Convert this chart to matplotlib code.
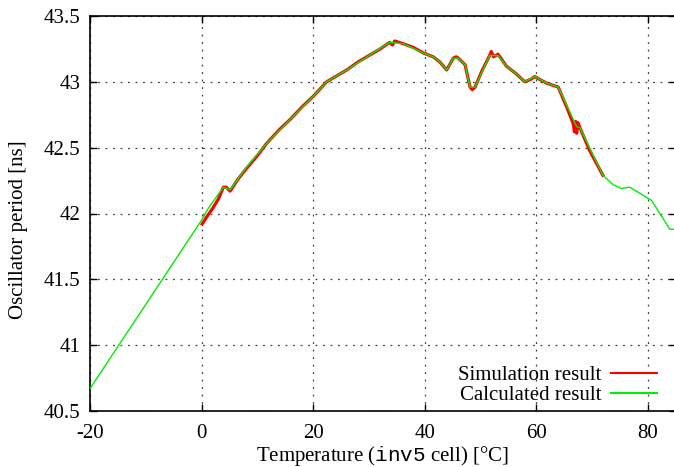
import matplotlib
matplotlib.use('Agg')
import matplotlib.pyplot as plt

plt.rcParams['font.family'] = ['Liberation Serif', 'DejaVu Serif']
plt.rcParams['mathtext.fontset'] = 'custom'
plt.rcParams['mathtext.tt'] = 'Liberation Mono'
plt.rcParams['mathtext.rm'] = 'Liberation Serif'
plt.rcParams['axes.unicode_minus'] = False

# Calculated result (green)
Tcalc = [-20, -10, 0, 1.2, 3.9, 5.1, 8, 11.6, 16, 20.0, 22.4, 26.0, 30, 33.7, 36.1,
         39.7, 41.5, 42.7, 43.9, 45.1, 46.0, 47.2, 48.1, 49.0, 51.6, 53.1, 54.6,
         56.4, 57.9, 59.7, 61.8, 63.9, 67.2, 67.8, 71.9, 73.7, 75.2, 76.7, 80.6,
         83.9, 85]
Pcalc = [40.67, 41.31, 41.95, 42.04, 42.2, 42.18, 42.35, 42.53, 42.72, 42.89, 43.0,
         43.09, 43.2, 43.30, 43.29, 43.22, 43.19, 43.15, 43.09, 43.18, 43.18, 43.13,
         42.96, 42.96, 43.2, 43.2, 43.12, 43.06, 43.0, 43.04, 42.99, 42.96, 42.66,
         42.65, 42.29, 42.22, 42.19, 42.2, 42.10, 41.88, 41.88]

# Simulation result (red), noisy
Tsim = [0.1, 1.0, 2.0, 3.0, 3.9, 4.4, 5.1, 6.5, 8, 10, 11.6, 14, 16, 18, 20.0, 22.4,
        24, 26.0, 28, 30, 32, 33.7, 34.2, 34.6, 36.1, 38, 39.7, 41.5, 42.7, 43.9,
        45.1, 45.6, 46.0, 47.2, 48.1, 48.5, 49.0, 50.2, 51.6, 51.9, 52.3, 53.1,
        54.6, 56.4, 57.9, 59.0, 59.7, 60.5, 61.8, 63.9, 65.5, 66.6, 66.8, 67.0,
        67.2, 67.4, 67.8, 69.5, 71.9]
Psim = [41.92, 41.98, 42.04, 42.11, 42.2, 42.2, 42.17, 42.26, 42.34, 42.44, 42.53,
        42.64, 42.72, 42.81, 42.89, 43.0, 43.04, 43.09, 43.15, 43.2, 43.25, 43.3,
        43.28, 43.31, 43.29, 43.26, 43.22, 43.19, 43.15, 43.09, 43.18, 43.19, 43.18,
        43.13, 42.96, 42.94, 42.96, 43.08, 43.2, 43.23, 43.19, 43.21, 43.12, 43.06,
        43.0, 43.02, 43.04, 43.02, 42.99, 42.96, 42.8, 42.68, 42.62, 42.7, 42.61,
        42.69, 42.65, 42.48, 42.29]

fig = plt.figure(figsize=(6.74, 4.67), dpi=100)
ax = fig.add_axes([90/674, 56/467, 586/674, 395/467])

ax.plot(Tsim, Psim, color='#ff0000', lw=2.3, label='Simulation result', zorder=3)
ax.plot(Tcalc, Pcalc, color='#00ee00', lw=1.0, label='Calculated result', zorder=4)

ax.set_xlim(-20, 85)
ax.set_ylim(40.5, 43.5)
ax.set_xticks([-20, 0, 20, 40, 60, 80])
ax.set_yticks([40.5, 41, 41.5, 42, 42.5, 43, 43.5])
ax.set_yticklabels(['40.5', '41', '41.5', '42', '42.5', '43', '43.5'])
ax.tick_params(direction='in', length=5, width=1, labelsize=15, top=True, right=True)
ax.tick_params(axis='x', pad=9)
ax.tick_params(axis='y', pad=7)
ax.grid(True, color='0.25', linestyle=(0, (1.5, 4.5)), linewidth=0.9)

for s in ax.spines.values():
    s.set_linewidth(1.2)

ax.set_xlabel(r'Temperature ($\mathtt{inv5}$ cell) [°C]', fontsize=15, labelpad=1)
ax.set_ylabel('Oscillator period [ns]', fontsize=15)
ax.yaxis.set_label_coords(-0.106, 0.46)

leg = ax.legend(loc='lower right', frameon=False, markerfirst=False, fontsize=15,
                handlelength=2.2, handletextpad=0.45, labelspacing=0.0,
                borderpad=0, borderaxespad=0, bbox_to_anchor=(0.9676, 0.015))
for h in leg.get_lines():
    h.set_linewidth(1.5)

fig.savefig('out.png', dpi=100)
